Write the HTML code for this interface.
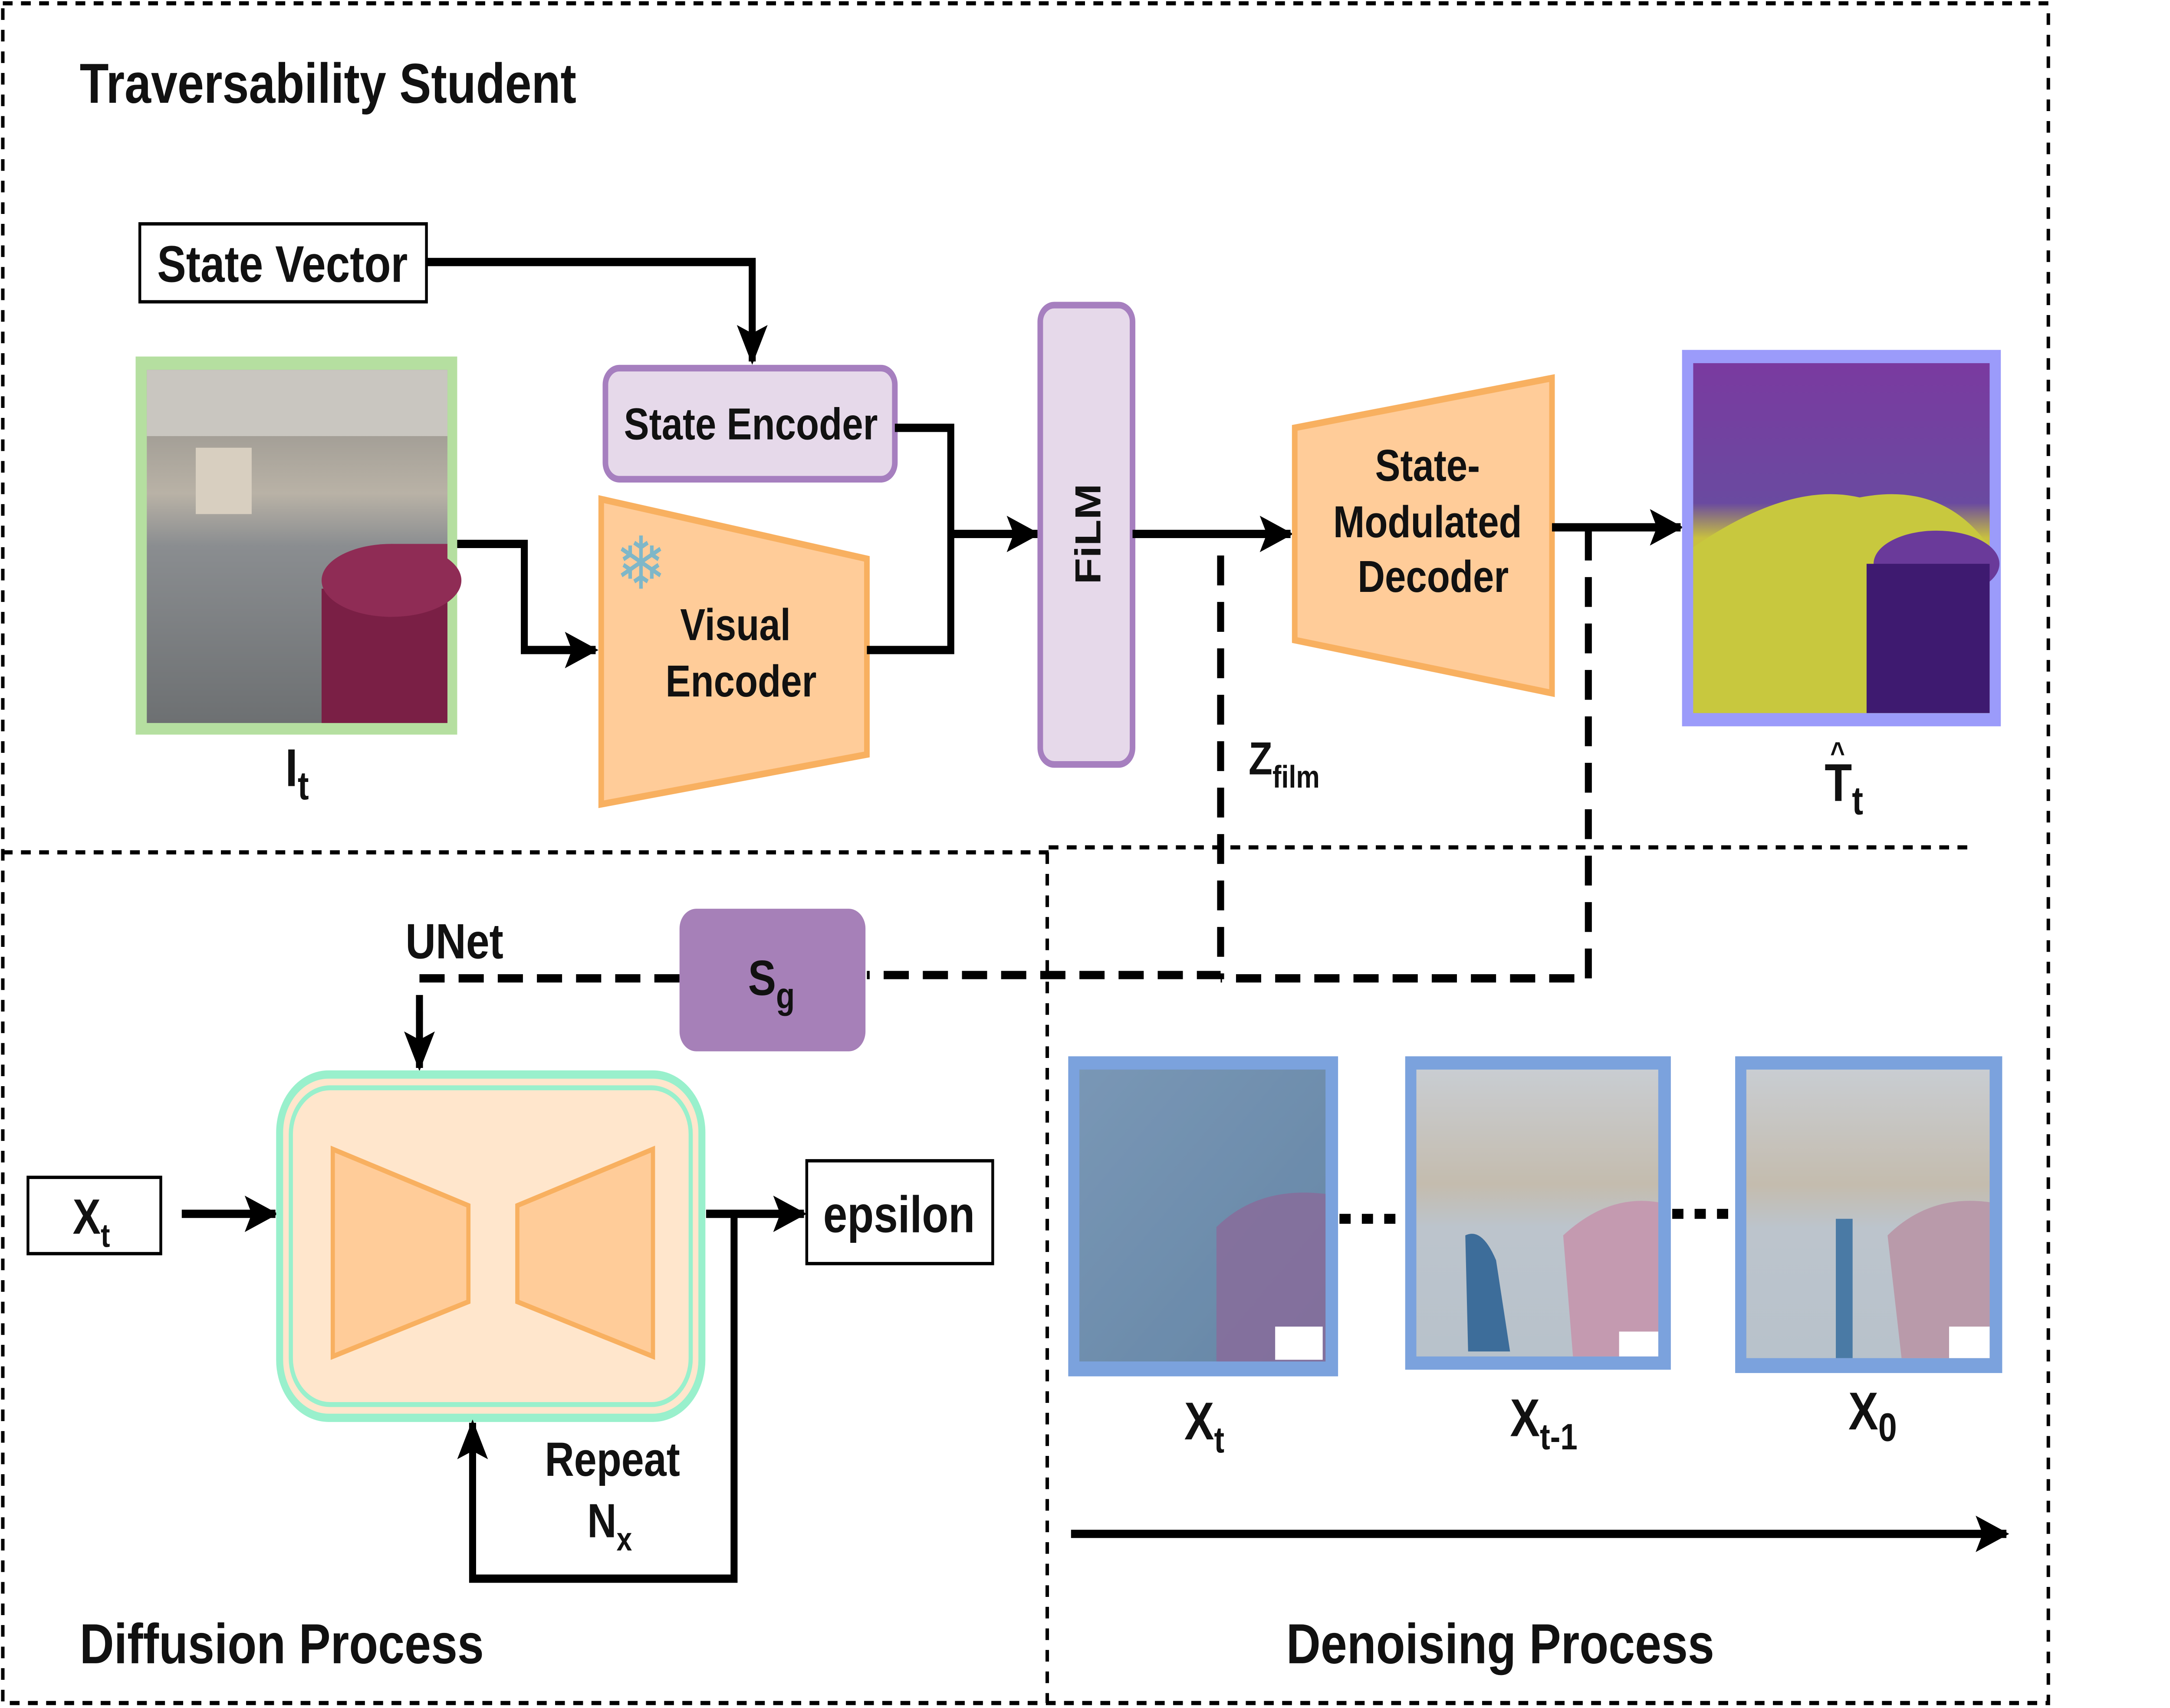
<!DOCTYPE html>
<html><head><meta charset="utf-8"><style>
html,body{margin:0;padding:0;background:#fff;overflow:hidden;width:5976px;height:3936px;}
svg{display:block;position:absolute;left:0;top:0;width:100vw;height:100vh;}
text{font-family:"Liberation Sans","DejaVu Sans",sans-serif;font-weight:bold;fill:#111;}
</style></head><body>
<svg viewBox="0 0 1552 1030" preserveAspectRatio="none" xmlns="http://www.w3.org/2000/svg">
<defs>
<marker id="ah" markerWidth="24" markerHeight="24" refX="22" refY="12" orient="auto" markerUnits="userSpaceOnUse" viewBox="0 0 24 24"><path d="M0,1 L24,12 L0,23 L5,12 z" fill="#000"/></marker>
<linearGradient id="floor" x1="0" y1="0" x2="0" y2="1"><stop offset="0" stop-color="#8c8a86"/><stop offset="0.35" stop-color="#b9b2a6"/><stop offset="0.5" stop-color="#8a8d90"/><stop offset="1" stop-color="#6d7072"/></linearGradient>
<linearGradient id="trav" x1="0" y1="0" x2="0" y2="1"><stop offset="0" stop-color="#7a3aa0"/><stop offset="0.4" stop-color="#6a4aa0"/><stop offset="0.5" stop-color="#c8c040"/><stop offset="1" stop-color="#b8c040"/></linearGradient>
<linearGradient id="noise" x1="0" y1="0" x2="1" y2="1"><stop offset="0" stop-color="#5a7fa5"/><stop offset="1" stop-color="#3f6890"/></linearGradient>
<linearGradient id="clean" x1="0" y1="0" x2="0" y2="1"><stop offset="0" stop-color="#c9cdd2"/><stop offset="0.4" stop-color="#c4bcae"/><stop offset="0.55" stop-color="#bcc4cc"/><stop offset="1" stop-color="#b8c2cb"/></linearGradient>
</defs>

<g fill="none" stroke="#000" stroke-width="2.5" stroke-dasharray="7,6">
<path d="M2,2 H1465 V1027 H2 Z"/>
<path d="M2,514 H750"/>
<path d="M750,511 H1410"/>
<path d="M749,514 V1027"/>
</g>

<text x="57" y="62" font-size="34">Traversability Student</text>

<rect x="100" y="135" width="205" height="47" fill="#fff" stroke="#000" stroke-width="2"/>
<text x="202" y="170" font-size="31" text-anchor="middle">State Vector</text>
<path d="M305,158 H538 V218" fill="none" stroke="#000" stroke-width="5" marker-end="url(#ah)"/>

<rect x="433" y="222" width="207" height="67" rx="10" fill="#e6d9ea" stroke="#a67fbf" stroke-width="4"/>
<text x="537" y="265" font-size="27" text-anchor="middle">State Encoder</text>

<rect x="97" y="215" width="230" height="228" fill="#b5dfa0"/>
<rect x="105" y="223" width="215" height="213" fill="url(#floor)"/>
<rect x="105" y="223" width="215" height="40" fill="#c9c6c0"/>
<rect x="140" y="270" width="40" height="40" fill="#d8cfc0"/>
<rect x="230" y="355" width="90" height="81" fill="#7a1f45"/>
<ellipse cx="280" cy="350" rx="50" ry="22" fill="#8f2c55"/>
<rect x="280" y="328" width="40" height="30" fill="#8f2c55"/>
<text x="204" y="474" font-size="32">I<tspan font-size="24" dy="8">t</tspan></text>

<path d="M327,328 H375 V392 H426" fill="none" stroke="#000" stroke-width="5" marker-end="url(#ah)"/>

<polygon points="430,301 620,337 620,455 430,485" fill="#ffcc99" stroke="#f8b060" stroke-width="4"/>
<text x="440" y="355" font-size="44" style="fill:#7fb7c8">❄</text>
<text x="526" y="386" font-size="27" text-anchor="middle">Visual</text>
<text x="530" y="420" font-size="27" text-anchor="middle">Encoder</text>

<path d="M620,392 H680 V258 H640" fill="none" stroke="#000" stroke-width="5"/>
<path d="M680,322 H742" fill="none" stroke="#000" stroke-width="5" marker-end="url(#ah)"/>

<rect x="744" y="184" width="66" height="277" rx="10" fill="#e6d9ea" stroke="#a67fbf" stroke-width="4"/>
<text x="0" y="0" font-size="26" text-anchor="middle" transform="translate(787,322) rotate(-90)">FiLM</text>

<path d="M810,322 H923" fill="none" stroke="#000" stroke-width="5" marker-end="url(#ah)"/>

<polygon points="926,258 1110,228 1110,418 926,386" fill="#ffcc99" stroke="#f8b060" stroke-width="4"/>
<text x="1021" y="290" font-size="27" text-anchor="middle">State-</text>
<text x="1021" y="324" font-size="27" text-anchor="middle">Modulated</text>
<text x="1025" y="357" font-size="27" text-anchor="middle">Decoder</text>

<path d="M1110,318 H1202" fill="none" stroke="#000" stroke-width="5" marker-end="url(#ah)"/>

<rect x="1203" y="211" width="228" height="227" fill="#9b9bfa"/>
<rect x="1211" y="219" width="212" height="211" fill="url(#trav)"/>
<path d="M1211,330 Q1280,290 1330,300 Q1390,290 1423,330 L1423,430 L1211,430 Z" fill="#c8c83e"/>
<ellipse cx="1385" cy="340" rx="45" ry="20" fill="#6a3a9a"/>
<rect x="1335" y="340" width="88" height="90" fill="#3e1a70"/>
<text x="1305" y="483" font-size="32">T<tspan font-size="24" dy="8">t</tspan></text>
<text x="1309" y="460" font-size="18">^</text>

<g fill="none" stroke="#000" stroke-width="5" stroke-dasharray="18,10">
<path d="M873,335 V588 H620"/>
<path d="M1136,320 V590 H873"/>
<path d="M486,590 H300 V615"/>
</g>
<path d="M300,610 V644" stroke="#000" stroke-width="5" marker-end="url(#ah)"/>
<text x="893" y="467" font-size="28">Z<tspan font-size="19" dy="8">film</tspan></text>

<rect x="486" y="548" width="133" height="86" rx="12" fill="#a680b8"/>
<text x="535" y="600" font-size="30">S<tspan font-size="22" dy="8">g</tspan></text>
<text x="290" y="578" font-size="30">UNet</text>

<rect x="20" y="710" width="95" height="46" fill="#fff" stroke="#000" stroke-width="2"/>
<text x="52" y="744" font-size="30">X<tspan font-size="20" dy="8">t</tspan></text>
<path d="M130,732 H197" stroke="#000" stroke-width="5" marker-end="url(#ah)"/>

<rect x="200" y="648" width="302" height="207" rx="35" fill="#ffe6cc" stroke="#99f0cc" stroke-width="5"/>
<rect x="208" y="656" width="286" height="191" rx="28" fill="none" stroke="#99f0cc" stroke-width="3"/>
<polygon points="238,693 335,727 335,785 238,818" fill="#ffcc99" stroke="#f8b060" stroke-width="3"/>
<polygon points="370,727 467,693 467,818 370,785" fill="#ffcc99" stroke="#f8b060" stroke-width="3"/>

<rect x="577" y="700" width="133" height="62" fill="#fff" stroke="#000" stroke-width="2"/>
<text x="643" y="743" font-size="31" text-anchor="middle">epsilon</text>
<path d="M505,732 H575" stroke="#000" stroke-width="5" marker-end="url(#ah)"/>
<path d="M525,732 V952 H338 V858" fill="none" stroke="#000" stroke-width="5" marker-end="url(#ah)"/>
<text x="438" y="890" font-size="29" text-anchor="middle">Repeat</text>
<text x="420" y="927" font-size="29">N<tspan font-size="20" dy="8">x</tspan></text>

<text x="57" y="1003" font-size="34">Diffusion Process</text>
<text x="1073" y="1003" font-size="34" text-anchor="middle">Denoising Process</text>

<rect x="764" y="637" width="193" height="193" fill="#7ba2dd"/>
<rect x="772" y="645" width="176" height="176" fill="url(#noise)"/>
<rect x="772" y="645" width="176" height="176" fill="#d8e0e8" opacity="0.25"/>
<path d="M870,740 Q900,715 948,720 L948,821 L870,821 Z" fill="#8a6a9a" opacity="0.8"/>
<rect x="912" y="800" width="34" height="20" fill="#fff"/>

<rect x="1005" y="637" width="190" height="189" fill="#7ba2dd"/>
<rect x="1013" y="645" width="173" height="173" fill="url(#clean)"/>
<path d="M1118,745 Q1150,720 1186,725 L1186,818 L1125,818 Z" fill="#c49ab0"/>
<path d="M1048,745 Q1060,740 1070,760 L1080,815 L1050,815 Z" fill="#3d6d9a"/>
<rect x="1158" y="803" width="28" height="15" fill="#fff"/>

<rect x="1241" y="637" width="191" height="191" fill="#7ba2dd"/>
<rect x="1249" y="645" width="174" height="174" fill="url(#clean)"/>
<path d="M1350,745 Q1380,720 1423,725 L1423,819 L1360,819 Z" fill="#b99aaa"/>
<rect x="1313" y="735" width="12" height="84" fill="#4a7aa5"/>
<rect x="1394" y="800" width="29" height="19" fill="#fff"/>

<g fill="none" stroke="#000" stroke-width="6" stroke-dasharray="8,8">
<path d="M958,735 H1005"/>
<path d="M1196,732 H1241"/>
</g>

<text x="847" y="868" font-size="32">X<tspan font-size="22" dy="8">t</tspan></text>
<text x="1080" y="866" font-size="32">X<tspan font-size="22" dy="8">t-1</tspan></text>
<text x="1322" y="862" font-size="32">X<tspan font-size="24" dy="7">0</tspan></text>

<path d="M766,925 H1435" stroke="#000" stroke-width="5" marker-end="url(#ah)"/>
</svg>
</body></html>
